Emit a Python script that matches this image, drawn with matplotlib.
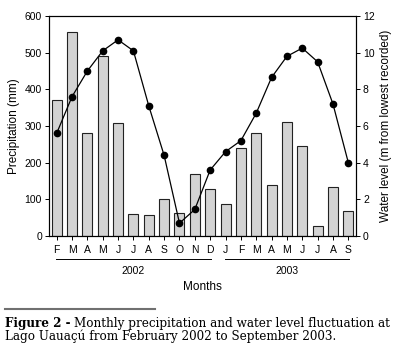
import numpy as np
import matplotlib
matplotlib.use('Agg')
import matplotlib.pyplot as plt

# Data
months = ['F', 'M', 'A', 'M', 'J', 'J', 'A', 'S', 'O', 'N', 'D',
          'J', 'F', 'M', 'A', 'M', 'J', 'J', 'A', 'S']
precip = [370, 556, 282, 491, 309, 61, 56, 102, 63, 170, 128,
          86, 241, 282, 138, 310, 245, 27, 135, 68]
water = [5.6, 7.6, 9.0, 10.1, 10.7, 10.1, 7.1, 4.4, 0.7, 1.45, 3.6,
         4.6, 5.2, 6.7, 8.65, 9.8, 10.25, 9.5, 7.2, 4.0]
years = ['2002', '2003']
year_span = [(0, 10), (11, 19)]

plt.rcParams['font.family'] = ['Liberation Sans', 'DejaVu Sans']

fig = plt.figure(figsize=(3.96, 3.54), dpi=100)
ax = fig.add_axes([0.1237, 0.3333, 0.7753, 0.6215])
x = np.arange(len(months))

ax.bar(x, precip, width=0.65, color='#d3d3d3', edgecolor='#222222', linewidth=0.8, zorder=1)
ax.set_xlim(-0.5, len(months) - 0.5)
ax.set_ylim(0, 600)
ax.set_yticks(range(0, 601, 100))
ax.set_xticks(x)
ax.set_xticklabels(months, fontsize=7.5)
ax.tick_params(direction='out', length=3, width=0.7, labelsize=7.5, pad=2)
ax.tick_params(axis='x', length=3, pad=3.5)
ax.set_ylabel('Precipitation (mm)', fontsize=8.5, labelpad=3)
for s in ax.spines.values():
    s.set_linewidth(0.8)

ax2 = ax.twinx()
ax2.plot(x, water, color='black', linewidth=0.9, marker='o', markersize=4.5, zorder=3)
ax2.set_ylim(0, 12)
ax2.set_yticks(range(0, 13, 2))
ax2.tick_params(direction='out', length=3, width=0.7, labelsize=7.5, pad=2)
ax2.set_ylabel('Water level (m from lowest recorded)', fontsize=8.5, labelpad=4)
ax2.spines['right'].set_linewidth(0.8)

# year brackets under the month labels
trans = ax.get_xaxis_transform()
for yr, (a, b) in zip(years, year_span):
    ax.plot([a - 0.05, b + 0.05], [-0.106, -0.106], color='black', linewidth=0.7,
            transform=trans, clip_on=False)
    ax.text((a + b) / 2, -0.135, yr, transform=trans, ha='center', va='top', fontsize=7.5)
ax.text(0.5, -0.205, 'Months', transform=ax.transAxes, ha='center', va='top', fontsize=8.5)

# caption
W, H = 396, 354
fig.add_artist(plt.Line2D([5 / W, 155 / W], [1 - 308.5 / H, 1 - 308.5 / H],
                          color='#707070', linewidth=1.5))
serif = ['DejaVu Serif']
fs = 8
t1 = fig.text(5 / W, 1 - 324 / H, 'Figure 2 -', fontsize=fs, fontweight='bold',
              family=serif, va='center')
t2 = fig.text(0, 1 - 324 / H, 'Monthly precipitation and water level fluctuation at',
              fontsize=fs, family=serif, va='center')
t3 = fig.text(5 / W, 1 - 336 / H, 'Lago Uauaçú from February 2002 to September 2003.',
              fontsize=fs, family=serif, va='center')
fig.canvas.draw()
w1 = t1.get_window_extent().width
w2 = t2.get_window_extent().width
scale = (388 - 4) / (w1 + w2)
fs = fs * scale
for t in (t1, t2, t3):
    t.set_fontsize(fs)
fig.canvas.draw()
t2.set_x((t1.get_window_extent().x1 + 4) / W)

fig.savefig('out.png', dpi=100)
